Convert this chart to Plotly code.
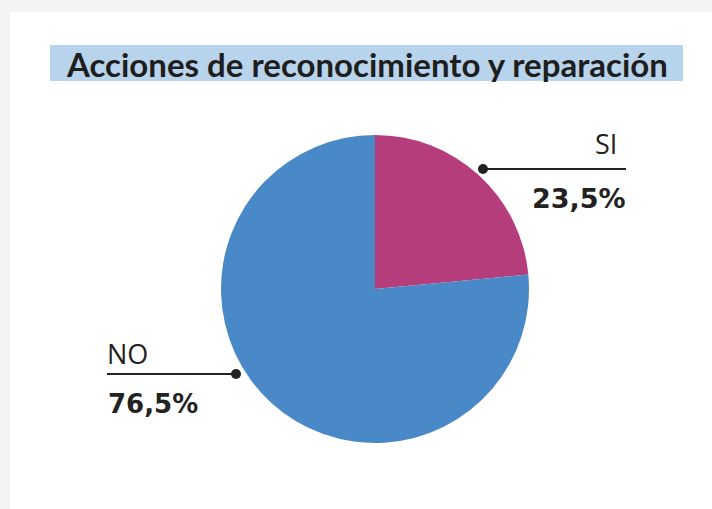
import plotly.graph_objects as go

labels = ["SI", "NO"]
values = [23.5, 76.5]
colors = ["#b53d7c", "#4a89c8"]
value_texts = ["23,5%", "76,5%"]
title = "Acciones de reconocimiento y reparación"

W, H = 712, 509
def px(x):
    return x / W
def py(y):
    return 1 - y / H

cx, cy, r = 375, 289, 154

fig = go.Figure(go.Pie(
    labels=labels, values=values, sort=False, direction="clockwise", rotation=0,
    marker=dict(colors=colors, line=dict(width=0)),
    textinfo="none", hoverinfo="label+percent", showlegend=False,
    domain=dict(x=[px(cx - r), px(cx + r)], y=[py(cy + r), py(cy - r)]),
))

shapes = [
    # card
    dict(type="rect", xref="paper", yref="paper", x0=px(10), x1=px(712), y0=py(509), y1=py(12),
         fillcolor="white", line=dict(width=0), layer="below"),
    # title box
    dict(type="rect", xref="paper", yref="paper", x0=px(50), x1=px(683), y0=py(81), y1=py(45),
         fillcolor="#b8d4ec", line=dict(width=0), layer="below"),
    # SI leader
    dict(type="line", xref="paper", yref="paper", x0=px(483), x1=px(626), y0=py(169), y1=py(169),
         line=dict(color="#222", width=2)),
    dict(type="circle", xref="paper", yref="paper", x0=px(478), x1=px(488), y0=py(174), y1=py(164),
         fillcolor="#222", line=dict(width=0)),
    # NO leader
    dict(type="line", xref="paper", yref="paper", x0=px(107), x1=px(236), y0=py(374), y1=py(374),
         line=dict(color="#222", width=2)),
    dict(type="circle", xref="paper", yref="paper", x0=px(231), x1=px(241), y0=py(379), y1=py(369),
         fillcolor="#222", line=dict(width=0)),
]

ann = [
    dict(text="<b>" + title + "</b>", x=px(367), y=py(64), xanchor="center", yanchor="middle",
         font=dict(size=33, color="#1e1e1e", family="Lato")),
    dict(text=labels[0], x=px(619), y=py(143), xanchor="right", yanchor="middle",
         font=dict(size=27, color="#222", family="Open Sans")),
    dict(text="<b>" + value_texts[0] + "</b>", x=px(628), y=py(198), xanchor="right", yanchor="middle",
         font=dict(size=27, color="#222", family="DejaVu Sans")),
    dict(text=labels[1], x=px(105), y=py(353), xanchor="left", yanchor="middle",
         font=dict(size=27, color="#222", family="Open Sans")),
    dict(text="<b>" + value_texts[1] + "</b>", x=px(106), y=py(404), xanchor="left", yanchor="middle",
         font=dict(size=26, color="#222", family="DejaVu Sans")),
]
for a in ann:
    a.update(xref="paper", yref="paper", showarrow=False)

fig.update_layout(
    width=W, height=H, margin=dict(l=0, r=0, t=0, b=0),
    paper_bgcolor="#f4f4f4", plot_bgcolor="white",
    shapes=shapes, annotations=ann,
)
fig.write_html("out.html", config={"displayModeBar": False},
               post_script="document.body.style.margin='0';document.body.style.overflow='hidden';")
